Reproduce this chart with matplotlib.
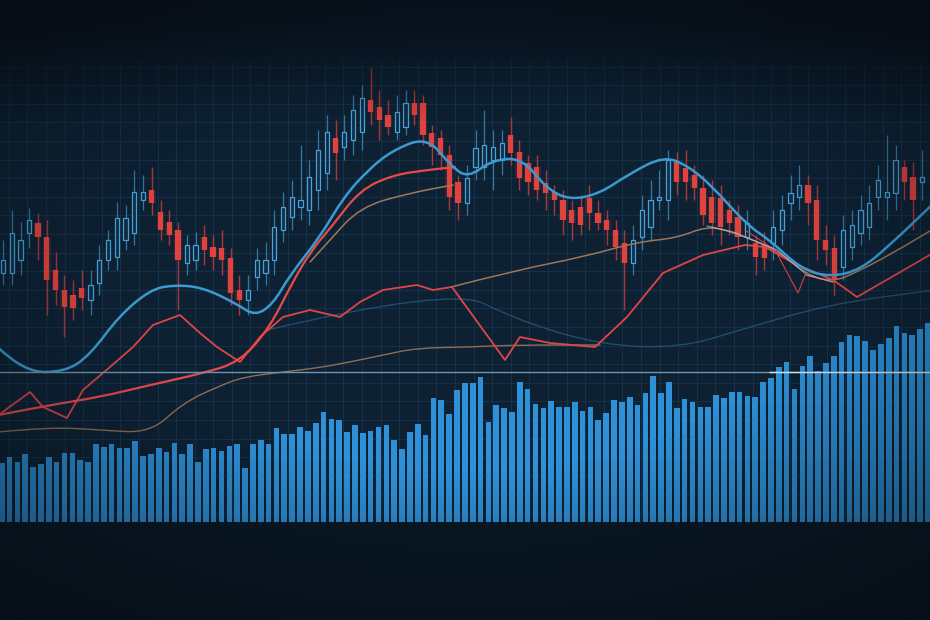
import numpy as np
import matplotlib
matplotlib.use("Agg")
import matplotlib.pyplot as plt
from matplotlib.path import Path
from matplotlib.patches import PathPatch

# candles: open, high, low, close (price units)
opens = [347, 347, 360, 387, 397, 383, 350, 330, 325, 332, 320, 337, 360, 363, 380, 387, 420, 430,
         408, 398, 390, 357, 360, 383, 373, 372, 362, 330, 320, 343, 347, 360, 390, 403, 413, 410,
         430, 447, 482, 473, 480, 488, 520, 513, 505, 488, 493, 517, 517, 487, 482, 465, 438, 417,
         453, 453, 460, 460, 485, 468, 457, 453, 437, 428, 420, 410, 413, 422, 407, 400, 390, 377,
         357, 383, 393, 420, 420, 458, 452, 445, 432, 423, 422, 410, 403, 383, 377, 375, 377, 390,
         417, 423, 435, 420, 380, 372, 353, 373, 387, 393, 423, 423, 427, 453, 443, 438]
highs = [380, 410, 398, 412, 407, 400, 368, 345, 340, 350, 350, 375, 390, 418, 415, 450, 445, 453,
         420, 410, 398, 385, 388, 395, 385, 390, 372, 345, 345, 372, 378, 410, 428, 440, 475, 460,
         490, 505, 500, 505, 525, 535, 552, 530, 520, 525, 530, 530, 525, 495, 490, 475, 445, 455,
         490, 510, 490, 490, 503, 480, 465, 465, 450, 435, 430, 420, 425, 435, 420, 410, 400, 390,
         395, 425, 440, 450, 470, 468, 470, 455, 445, 440, 435, 420, 415, 410, 385, 388, 410, 425,
         445, 455, 445, 435, 395, 385, 405, 410, 425, 435, 455, 485, 475, 460, 458, 470]
lows = [335, 335, 345, 372, 360, 305, 315, 283, 300, 310, 305, 325, 350, 350, 370, 375, 410, 405,
        380, 375, 310, 345, 350, 355, 350, 345, 315, 305, 305, 330, 335, 345, 378, 390, 400, 395,
        410, 430, 440, 460, 465, 470, 495, 480, 485, 480, 485, 495, 475, 455, 450, 410, 400, 405,
        440, 440, 430, 445, 455, 430, 425, 420, 410, 405, 385, 380, 385, 390, 390, 375, 360, 310,
        345, 370, 380, 410, 400, 425, 420, 420, 395, 385, 375, 385, 370, 370, 345, 350, 360, 375,
        400, 410, 395, 360, 355, 325, 340, 360, 375, 380, 410, 400, 410, 420, 390, 420]
closes = [360, 387, 380, 400, 383, 340, 330, 313, 312, 322, 335, 360, 380, 402, 402, 428, 428, 417,
          390, 385, 360, 375, 375, 370, 363, 360, 327, 320, 330, 360, 360, 393, 413, 423, 420, 443,
          470, 488, 467, 488, 510, 522, 508, 500, 493, 508, 517, 505, 485, 473, 465, 423, 417, 442,
          472, 475, 473, 477, 467, 442, 438, 430, 427, 420, 400, 397, 395, 407, 397, 390, 373, 357,
          380, 410, 420, 423, 460, 438, 438, 432, 405, 397, 393, 397, 383, 397, 363, 362, 393, 410,
          427, 435, 417, 380, 370, 340, 390, 395, 410, 417, 440, 428, 460, 438, 420, 443]

# volume bars
volume = [59, 65, 60, 68, 55, 58, 65, 60, 69, 69, 62, 60, 78, 75, 78, 74, 74, 81, 66, 68,
          74, 70, 79, 68, 78, 60, 73, 74, 71, 76, 78, 54, 78, 82, 78, 94, 88, 88, 95, 91,
          99, 110, 103, 102, 90, 97, 89, 91, 95, 97, 82, 73, 90, 98, 87, 124, 122, 108, 132, 139,
          139, 145, 100, 117, 114, 110, 140, 133, 118, 114, 121, 115, 115, 120, 111, 115, 102, 109,
          122, 120, 125, 117, 129, 146, 129, 140, 114, 123, 120, 115, 115, 127, 124, 130, 130, 126,
          125, 140, 144, 155, 160, 133, 156, 166, 151, 159, 166, 180, 187, 186, 181, 172, 178, 184,
          196, 189, 187, 193, 199]

# moving average style lines (time in candle units, price)
ma_blue_t = [-0.5, 2.4, 7.09, 9.94, 13.26, 16.8, 19.31, 22.74, 26.74, 28.8, 30.86, 32.8, 36.23,
             38.86, 41.71, 44.57, 48.46, 51.2, 53.14, 55.89, 59.31, 62.06, 64.69, 68.11, 71.54,
             75.54, 78.29, 81.03, 85.03, 87.77, 91.2, 94.51, 97.94, 101.37, 106.5]
ma_blue_p = [272, 248, 248, 265, 304, 330, 335, 333, 316, 304, 316, 345, 383, 422, 450, 470, 483,
             454, 442, 460, 462, 432, 420, 426, 446, 464, 454, 434, 395, 379, 351, 343, 350, 375, 418]

ma_red_t = [-0.5, 5.37, 11.09, 16.8, 22.51, 27.09, 30.51, 32.8, 35.09, 37.71, 40.8, 44.57, 48.46, 51.66]
ma_red_p = [205, 215, 223, 235, 246, 258, 293, 333, 368, 395, 430, 445, 450, 453]

fast_red_t = [-0.5, 3.09, 4.57, 7.31, 9.14, 12.23, 14.86, 17.14, 20.23, 22.51, 24.46, 27.09, 29.37,
              32.0, 35.09, 38.51, 40.8, 43.43, 47.31, 49.14, 51.31, 57.37, 59.09, 62.51, 67.66,
              71.31, 75.43, 80.0, 84.8, 87.09, 90.29, 94.86, 97.6, 106.5]
fast_red_p = [205, 228, 213, 202, 230, 253, 273, 295, 305, 287, 273, 258, 283, 303, 310, 303, 318,
              330, 335, 330, 333, 260, 283, 277, 273, 303, 347, 365, 375, 373, 357, 340, 323, 368]

tick_red_t = [84.8, 88.23, 90.86, 91.66, 94.86]
tick_red_p = [390, 370, 327, 345, 338]

tan_hi_t = [35.09, 37.26, 40.8, 46.51, 51.43]
tan_hi_p = [358, 379, 413, 427, 435]

tan_mid_t = [51.2, 58.74, 66.29, 72.46, 77.03, 80.46, 83.43, 88.46, 91.89, 94.86, 97.6, 101.71, 106.5]
tan_mid_p = [333, 350, 363, 378, 382, 394, 388, 370, 345, 338, 348, 367, 392]

tan_lo_t = [-0.5, 5.37, 11.09, 16.8, 20.57, 24.46, 27.43, 32.0, 35.89, 39.66, 43.43, 47.31, 53.37,
            58.74, 68.23]
tan_lo_p = [188, 193, 190, 187, 217, 233, 243, 248, 252, 258, 265, 272, 273, 275, 275]

slow_t = [30.17, 51.09, 58.74, 68.23, 77.37, 84.23, 94.51, 106.5]
slow_p = [290, 333, 300, 275, 272, 290, 316, 330]

base_level = 248

BG = "#0d2133"
T0, T1 = -0.343, 105.94


def smooth_line(ax, t, p, **kw):
    """
    Draws a polyline as a chain of quadratic curves (points act as control points)
    """
    pts = np.column_stack([t, p]).astype(float)
    verts = [pts[0]]
    codes = [Path.MOVETO]
    for i in range(1, len(pts) - 1):
        verts += [pts[i], (pts[i] + pts[i + 1]) / 2]
        codes += [Path.CURVE3, Path.CURVE3]
    verts.append(pts[-1])
    codes.append(Path.LINETO)
    patch = PathPatch(Path(verts, codes), fill=False, capstyle="round", **kw)
    ax.add_patch(patch)


def draw_background(ax):
    ax.set_xlim(T0, T1)
    ax.set_ylim(0, 620)
    ax.set_facecolor(BG)
    ax.axhspan(0, 98, color="#0a1824", zorder=0)
    for gx in np.arange(T0 + 1.0, T1, 2.125):
        ax.vlines(gx, 98, 560, color="#183650", lw=0.7, alpha=0.8, zorder=1)
    for gy in np.arange(107, 560, 18.6):
        ax.hlines(gy, T0, T1, color="#183650", lw=0.7, alpha=0.8, zorder=1)
    ax.axis("off")


def draw_volume(ax):
    idx = np.arange(len(volume))
    ax.bar(idx, volume, width=0.72, color="#2e90d6", zorder=2)
    ax.bar(idx, np.array(volume) * 0.55, width=0.72, color="#3596da", alpha=0.25, zorder=3)
    ax.set_xlim(-0.22, len(volume) - 0.74)
    ax.set_ylim(0, 200)
    ax.patch.set_alpha(0)
    ax.axis("off")


def draw_candles(ax):
    o = np.array(opens)
    h = np.array(highs)
    l = np.array(lows)
    c = np.array(closes)
    t = np.arange(len(o))
    up = c >= o
    lo_body = np.minimum(o, c)
    hi_body = np.maximum(o, c)
    # wicks
    ax.vlines(t[up], l[up], h[up], color="#3f8fc0", lw=0.9, alpha=0.8, zorder=4)
    ax.vlines(t[~up], l[~up], h[~up], color="#c9393c", lw=1.0, alpha=0.85, zorder=4)
    # hollow blue bodies
    ax.bar(t[up], hi_body[up] - lo_body[up], bottom=lo_body[up], width=0.5,
           facecolor="#102c44", edgecolor="#4aa2d6", lw=0.9, zorder=5)
    # red bodies with a soft glow
    ax.bar(t[~up], hi_body[~up] - lo_body[~up], bottom=lo_body[~up], width=0.9,
           color="#e8453f", alpha=0.18, lw=0, zorder=5)
    ax.bar(t[~up], hi_body[~up] - lo_body[~up], bottom=lo_body[~up], width=0.58,
           color="#e0433e", lw=0, zorder=6)


def draw_lines(ax):
    smooth_line(ax, slow_t, slow_p, edgecolor="#27577a", lw=1.0, alpha=0.8, zorder=3)
    smooth_line(ax, tan_lo_t, tan_lo_p, edgecolor="#8f6e55", lw=1.0, zorder=3)
    smooth_line(ax, tan_mid_t, tan_mid_p, edgecolor="#9d7658", lw=1.1, zorder=7)
    ax.plot(tan_mid_t[5:10], tan_mid_p[5:10], color="#b9d4e4", lw=0.9, alpha=0.6, zorder=8)
    smooth_line(ax, tan_hi_t, tan_hi_p, edgecolor="#a17959", lw=1.1, zorder=7)
    ax.plot(fast_red_t, fast_red_p, color="#e04547", lw=1.3, zorder=7)
    ax.plot(tick_red_t, tick_red_p, color="#d04045", lw=0.8, zorder=7)
    smooth_line(ax, ma_red_t, ma_red_p, edgecolor="#e84a4a", lw=1.6, zorder=7)
    smooth_line(ax, ma_blue_t, ma_blue_p, edgecolor="#3b9ad0", lw=1.8, zorder=8)
    ax.axhline(base_level, color="#6e95ae", lw=1.0, zorder=8)
    ax.hlines(base_level, 87.5, T1, color="#d4e8f4", lw=1.0, zorder=9)


def draw_vignette(fig):
    ax = fig.add_axes([0, 0, 1, 1], zorder=10)
    yy, xx = np.mgrid[0:1:310j, 0:1:465j]
    r = np.sqrt(((xx - 0.5) / 0.72) ** 2 + ((yy - 0.55) / 0.62) ** 2)
    a = np.clip((r - 0.5) * 1.0, 0, 0.8)
    top = np.clip((yy - 0.8) * 3.0, 0, 0.5)
    a = np.clip(a + top, 0, 0.9)
    img = np.zeros((310, 465, 4))
    img[..., 0] = 0.02
    img[..., 1] = 0.04
    img[..., 2] = 0.07
    img[..., 3] = a
    ax.imshow(img, extent=(0, 1, 0, 1), origin="lower", aspect="auto")
    ax.set_xlim(0, 1)
    ax.set_ylim(0, 1)
    ax.axis("off")


if __name__ == '__main__':
    fig = plt.figure(figsize=(9.3, 6.2), dpi=100)
    fig.patch.set_facecolor(BG)

    ax_bg = fig.add_axes([0, 0, 1, 1], zorder=0)
    draw_background(ax_bg)

    ax_vol = fig.add_axes([0, 98 / 620, 1, 200 / 620], zorder=1)
    draw_volume(ax_vol)

    ax = fig.add_axes([0, 0, 1, 1], zorder=2)
    ax.set_xlim(T0, T1)
    ax.set_ylim(0, 620)
    ax.patch.set_alpha(0)
    ax.axis("off")
    draw_candles(ax)
    draw_lines(ax)

    draw_vignette(fig)

    fig.savefig("out.png", dpi=100, facecolor=fig.get_facecolor())
